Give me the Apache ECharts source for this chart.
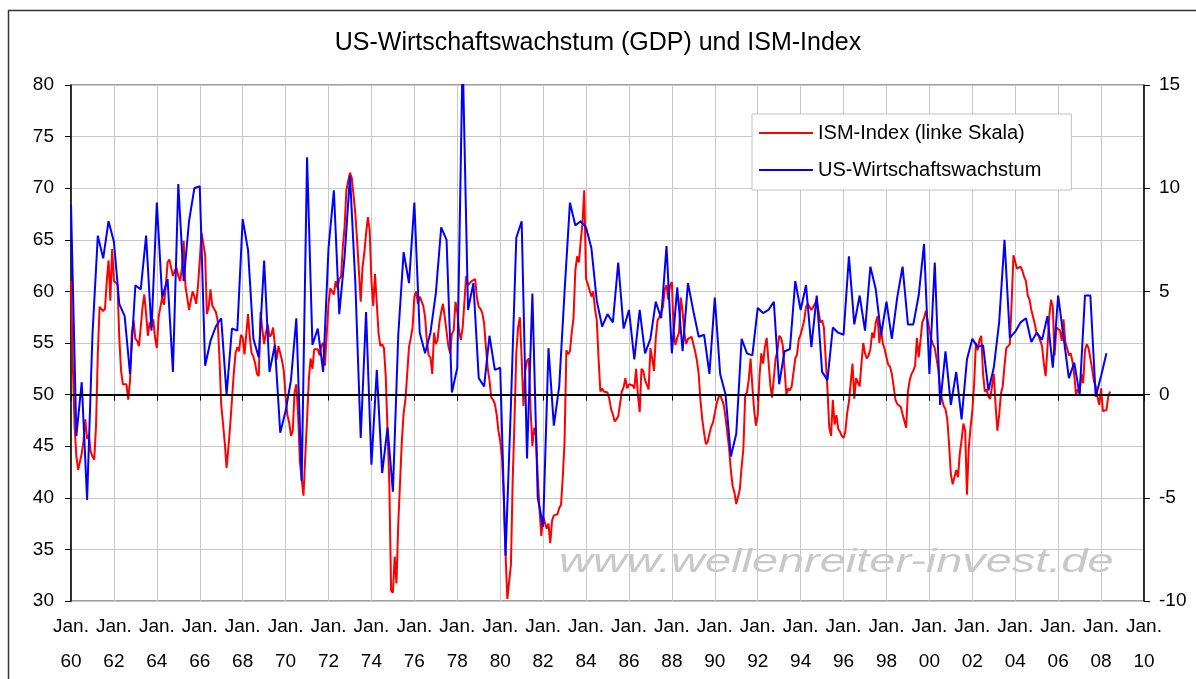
<!DOCTYPE html>
<html>
<head>
<meta charset="utf-8">
<script src="https://cdn.jsdelivr.net/npm/echarts@6/dist/echarts.min.js"></script>
<style>
  html, body { margin: 0; padding: 0; background: #fff; }
  #chart { width: 1196px; height: 679px; }
</style>
</head>
<body>
<div id="chart"></div>
<script>
// ISM-Index, monatlich ab Jan. 1960 (linke Skala)
var ismValues = [
  61.0, 53.0, 47.0, 44.0, 42.7, 43.5, 44.3, 45.5, 47.6, 45.7, 46.1, 44.5,
  44.0, 43.7, 47.0, 54.0, 58.5, 58.5, 58.1, 58.3, 61.0, 63.0, 59.1, 64.1,
  61.0, 61.0, 60.7, 55.5, 52.3, 51.0, 51.0, 51.0, 49.5, 51.3, 55.9, 57.2,
  55.4, 55.2, 54.7, 56.5, 58.5, 59.7, 57.8, 55.7, 57.0, 56.5, 57.3, 55.5,
  54.5, 57.5, 58.5, 59.4, 58.7, 60.5, 62.8, 63.1, 63.1, 61.5, 62.0, 62.3,
  61.5, 61.0, 62.2, 64.9, 60.5, 59.4, 58.2, 58.1, 60.0, 59.5, 58.8, 60.5,
  63.0, 65.7, 65.6, 63.5, 57.8, 58.5, 60.2, 58.6, 58.6, 58.0, 57.2, 53.6,
  49.0, 47.2, 45.3, 42.9, 44.8, 47.0, 49.5, 52.0, 54.0, 54.6, 54.2, 55.8,
  55.5, 53.9, 54.0, 57.8, 55.5, 54.0, 53.7, 53.0, 52.0, 51.8, 58.0, 56.3,
  54.9, 56.0, 56.8, 55.6, 55.8, 56.5, 54.8, 53.4, 54.7, 54.6, 53.3, 52.3,
  49.8, 48.0, 47.3, 46.0, 46.5, 50.2, 51.0, 48.0, 43.5, 41.8, 40.2, 44.0,
  47.6, 51.5, 53.5, 52.5, 54.4, 54.5, 54.4, 53.8, 54.8, 55.0, 52.8, 55.9,
  58.8, 60.3, 60.2, 59.7, 61.0, 60.3, 61.2, 61.4, 64.3, 66.3, 69.8, 70.7,
  71.5, 71.0, 69.3, 67.5, 64.9, 64.8, 59.0, 62.3, 63.7, 65.6, 67.2, 66.0,
  61.0, 58.6, 61.7, 58.8, 55.9, 54.7, 54.9, 54.5, 51.8, 46.5, 41.4, 31.0,
  30.8, 34.3, 31.7, 37.5, 41.5, 45.5, 48.2, 49.5, 52.0, 54.6, 55.5, 56.5,
  59.5, 60.0, 58.8, 59.5, 59.5, 58.6, 57.5, 55.2, 53.8, 53.6, 52.0, 56.0,
  54.9, 55.3, 57.0, 58.0, 58.8, 57.5, 57.4, 54.7, 54.0, 55.9, 56.2, 59.0,
  58.0, 56.2, 55.3, 56.5, 59.0, 61.5, 60.6, 60.7, 61.0, 61.0, 61.2, 59.4,
  58.5, 58.3, 57.9, 56.9, 54.6, 52.6, 51.4, 49.7, 49.5, 49.1, 48.1, 46.5,
  45.5, 44.0, 40.0, 34.5, 30.2, 30.2, 33.5, 41.8, 47.5, 54.0, 56.5, 57.5,
  53.5, 48.9, 52.3, 53.3, 53.5, 48.5, 45.0, 46.8, 46.0, 42.0, 38.8, 36.3,
  38.2, 38.2, 37.0, 37.5, 35.6, 37.8, 38.3, 38.4, 38.4, 39.0, 39.3, 42.0,
  45.5, 54.3, 53.9, 54.2, 56.0, 57.4, 62.0, 63.4, 62.8, 64.8, 66.6, 69.8,
  61.2, 60.7, 60.8, 59.5, 60.0, 58.3, 57.2, 53.5, 50.3, 50.6, 50.3, 50.3,
  50.2, 49.6, 48.6, 48.1, 47.4, 47.6, 47.9, 47.9, 50.3, 50.7, 51.6, 50.6,
  51.0, 50.9, 50.9, 50.6, 52.5, 50.0, 48.3, 52.5, 52.3, 51.4, 51.3, 50.5,
  54.5, 53.5, 52.3, 55.5, 57.2, 57.5, 57.6, 58.5, 60.2, 60.6, 59.2, 60.6,
  60.9, 56.1, 54.8, 55.5, 56.0, 59.4, 58.1, 55.9, 54.9, 55.4, 55.5, 55.6,
  55.6, 54.2, 53.3, 52.0, 49.4, 47.6, 46.3, 45.2, 45.4, 46.2, 46.9, 47.3,
  47.3, 49.1, 49.7, 50.0, 49.5, 49.0, 47.8, 46.3, 44.8, 42.6, 41.1, 40.5,
  39.4, 39.3, 40.8, 43.0, 44.8, 50.0, 50.2, 51.5, 53.5, 50.8, 48.5, 47.0,
  48.0, 51.8, 54.0, 53.0, 54.6, 55.5, 53.3, 51.0, 49.7, 49.8, 53.5, 54.2,
  55.7, 55.5, 54.8, 52.5, 50.0, 50.6, 50.4, 50.8, 50.8, 53.5, 53.9, 55.4,
  55.8, 56.5, 57.2, 58.5, 58.8, 58.5, 58.2, 58.2, 58.8, 59.2, 59.3, 57.0,
  57.2, 56.5, 53.5, 50.5, 46.8, 46.0, 49.5, 47.1, 48.0, 46.7, 46.4, 46.0,
  45.8, 46.4, 48.2, 49.3, 49.3, 53.0, 49.6, 51.6, 51.5, 50.8, 53.0, 55.0,
  54.0, 53.5, 53.8, 54.4, 56.0, 55.5, 57.0, 57.6, 55.0, 56.3, 54.9, 54.4,
  53.6, 52.9, 52.7, 52.0, 50.8, 49.5, 49.1, 49.2, 48.8, 48.1, 48.0, 46.8,
  50.3, 51.4, 52.0, 52.3, 52.8, 55.5, 53.6, 55.2, 57.0, 57.4, 58.1, 57.2,
  56.3, 55.4, 54.9, 54.5, 53.5, 52.4, 50.5, 49.6, 48.9, 48.6, 47.6, 45.2,
  42.3, 41.3, 41.2, 42.7, 42.0, 44.3, 45.6, 47.2, 46.5, 40.3, 44.8, 46.8,
  48.4, 51.0, 55.0, 54.3, 55.3, 55.7, 52.0, 50.3, 50.5, 49.8, 49.6, 49.6,
  52.0, 49.0, 46.5, 48.0, 50.1, 50.8, 52.8, 54.5, 54.6, 54.9, 59.0, 63.5,
  63.6, 62.2, 62.3, 62.4, 62.0, 61.4, 61.0, 59.6, 59.2, 58.2, 57.5, 56.8,
  55.9, 55.7, 55.2, 54.7, 53.0, 51.8, 54.5, 57.5, 59.2, 58.5, 53.8, 56.5,
  56.5, 56.2, 55.2, 57.3, 55.1, 54.5, 53.8, 54.0, 53.2, 51.9, 50.0, 50.5,
  50.2, 52.0, 51.1, 54.3, 54.9, 54.5, 53.5, 52.5, 51.3, 50.8, 49.8, 49.0,
  50.6, 48.4, 48.4, 48.5, 49.8, 50.3
];

// US-Wirtschaftswachstum (BIP, annualisiert), quartalsweise ab Q1 1960 (rechte Skala)
var gdpValues = [
  9.2, -2.0, 0.6, -5.1,
  2.9, 7.7, 6.6, 8.4,
  7.4, 4.4, 3.8, 1.0,
  5.3, 5.1, 7.7, 3.1,
  9.3, 4.7, 5.6, 1.1,
  10.2, 5.5, 8.4, 10.0,
  10.1, 1.4, 2.6, 3.3,
  3.7, 0.0, 3.2, 3.1,
  8.5, 7.0, 2.7, 1.8,
  6.5, 1.1, 2.4, -1.85,
  -0.8, 0.7, 3.7, -4.2,
  11.5, 2.4, 3.2, 1.1,
  7.1, 9.9, 3.9, 6.7,
  10.6, 5.4, -2.1, 4.0,
  -3.4, 1.2, -3.8, -1.6,
  -4.7, 2.9, 6.9, 5.4,
  9.3, 3.0, 2.0, 3.0,
  4.9, 8.1, 7.5, 0.1,
  1.3, 16.5, 4.1, 5.4,
  0.8, 0.4, 2.85, 1.2,
  1.3, -7.8, -0.5, 7.6,
  8.4, -3.1, 4.9, -5.0,
  -6.4, 2.25, -1.5, 0.4,
  5.0, 9.3, 8.2, 8.4,
  8.1, 7.1, 4.55, 3.3,
  3.9, 3.5, 6.4, 3.2,
  4.1, 1.7, 4.1, 2.0,
  2.7, 4.5, 3.7, 7.2,
  2.0, 5.2, 2.1, 5.4,
  4.05, 2.8, 2.9, 1.0,
  4.7, 1.0, 0.0, -3.0,
  -1.9, 2.7, 2.0, 1.9,
  4.2, 3.95, 4.1, 4.5,
  0.5, 2.1, 2.2, 5.5,
  4.1, 5.3, 2.3, 4.8,
  1.1, 0.7, 3.25, 3.0,
  2.9, 6.7, 3.4, 4.8,
  3.1, 6.2, 5.1, 2.9,
  4.5, 2.7, 4.7, 6.2,
  3.4, 3.4, 4.8, 7.3,
  1.0, 6.4, -0.5, 2.1,
  -0.5, 1.1, -1.2, 1.7,
  2.7, 2.3, 2.4, 0.2,
  1.3, 3.5, 7.5, 2.75,
  3.05, 3.5, 3.7, 2.55,
  3.0, 2.65, 3.8, 1.3,
  4.8, 2.8, 0.8, 1.55,
  0.0, 4.8, 4.8, -0.1,
  0.9, 2.0
];

var startYear = 1960;
var monthSpan = 600;          // Jan. 60 .. Jan. 10
var leftTicks = [30, 80, 5];  // min, max, step
var rightTicks = [-10, 15, 5];

var font = 'Arial, "Liberation Sans", sans-serif';

var chart = echarts.init(document.getElementById('chart'));

chart.setOption({
    animation: false,
    backgroundColor: '#fff',
    title: {
        text: 'US-Wirtschaftswachstum (GDP) und ISM-Index',
        left: 'center',
        top: 31,
        padding: 0,
        textStyle: {fontFamily: font, fontSize: 25, fontWeight: 'normal', color: '#000'}
    },
    legend: {
        data: ['ISM-Index (linke Skala)', 'US-Wirtschaftswachstum'],
        orient: 'vertical',
        left: 752,
        top: 114,
        padding: [9, 30, 10, 7],
        itemGap: 17,
        itemWidth: 54,
        itemHeight: 2,
        icon: 'rect',
        backgroundColor: '#fff',
        borderColor: '#c0c0c0',
        borderWidth: 1,
        borderRadius: 0,
        textStyle: {fontFamily: font, fontSize: 20, color: '#000', lineHeight: 20}
    },
    grid: {
        left: 71, right: 52, top: 85, bottom: 78,
        show: true, borderColor: '#404040', borderWidth: 1
    },
    graphic: [
        {
            type: 'polyline', silent: true, z: 0,
            shape: {points: [[8.5, 679], [8.5, 10.5], [1196, 10.5]]},
            style: {stroke: '#333', lineWidth: 1.5, fill: null}
        },
        {
            type: 'text', silent: true, z: 0,
            left: 559, top: 546,
            scaleX: 1.38,
            style: {
                text: 'www.wellenreiter-invest.de',
                font: 'italic 34px ' + font,
                fill: '#c8c8c8'
            }
        }
    ],
    xAxis: {
        type: 'value',
        min: 0, max: monthSpan, interval: 24,
        axisLine: {show: true, lineStyle: {color: '#000', width: 1}},
        axisTick: {show: true, length: 6, lineStyle: {color: '#000'}},
        splitLine: {show: true, lineStyle: {color: '#c8c8c8', width: 1}},
        axisLabel: {
            margin: 8,
            fontFamily: font, fontSize: 19, color: '#000', lineHeight: 35,
            formatter: function (m) {
                var yy = (startYear + Math.round(m / 12)) % 100;
                return 'Jan.\n' + (yy < 10 ? '0' + yy : yy);
            }
        }
    },
    yAxis: [
        {
            type: 'value', position: 'left',
            min: leftTicks[0], max: leftTicks[1], interval: leftTicks[2],
            axisLine: {show: true, lineStyle: {color: '#000', width: 1.5}},
            axisTick: {show: true, length: 6, lineStyle: {color: '#000'}},
            splitLine: {show: true, lineStyle: {color: '#c8c8c8', width: 1}},
            axisLabel: {margin: 17, fontFamily: font, fontSize: 19, color: '#000'}
        },
        {
            type: 'value', position: 'right',
            min: rightTicks[0], max: rightTicks[1], interval: rightTicks[2],
            axisLine: {show: true, lineStyle: {color: '#000', width: 1.5}},
            axisTick: {show: true, length: 6, lineStyle: {color: '#000'}},
            splitLine: {show: false},
            axisLabel: {margin: 15, fontFamily: font, fontSize: 19, color: '#000'}
        }
    ],
    series: [
        {
            name: 'ISM-Index (linke Skala)',
            type: 'line',
            yAxisIndex: 0,
            showSymbol: false,
            symbol: 'none',
            color: '#ff0000',
            lineStyle: {color: '#ff0000', width: 2},
            data: ismValues.map(function (v, i) { return [i, v]; })
        },
        {
            name: 'US-Wirtschaftswachstum',
            type: 'line',
            yAxisIndex: 1,
            showSymbol: false,
            symbol: 'none',
            color: '#0000ff',
            lineStyle: {color: '#0000ff', width: 2},
            data: gdpValues.map(function (v, q) { return [q * 3, v]; }),
            markLine: {
                silent: true,
                symbol: 'none',
                label: {show: false},
                lineStyle: {color: '#000', width: 2, type: 'solid'},
                data: [{yAxis: 0}]
            }
        }
    ]
});
</script>
</body>
</html>
